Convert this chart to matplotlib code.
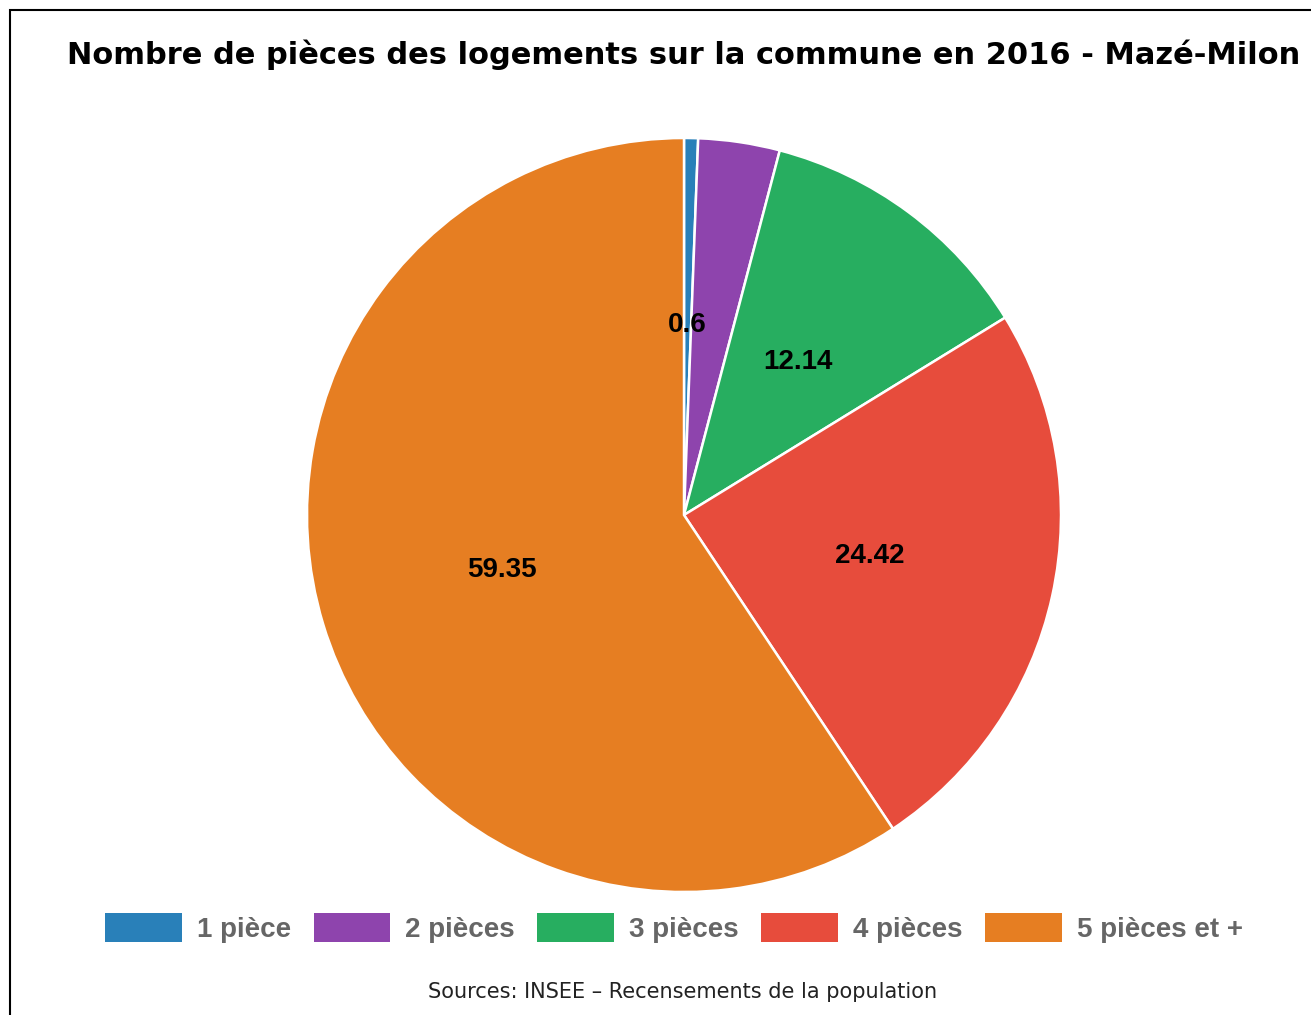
import matplotlib
matplotlib.use("Agg")
import matplotlib.pyplot as plt
from matplotlib.patches import Rectangle, Patch
import numpy as np

categories = ["1 pièce", "2 pièces", "3 pièces", "4 pièces", "5 pièces et +"]
shares = [0.6, 3.49, 12.14, 24.42, 59.35]
shown_labels = ["0.6", "", "12.14", "24.42", "59.35"]
colors = ["#2980b9", "#8e44ad", "#27ae60", "#e74c3c", "#e67e22"]

W, H = 1311, 1015
fig = plt.figure(figsize=(W / 100, H / 100), dpi=100)
fig.patch.set_facecolor("white")

# outer frame (left and top edges visible)
fig.add_artist(Rectangle((10 / W, -0.1), 1.2, (H - 10) / H + 0.1,
                         transform=fig.transFigure, fill=False,
                         edgecolor="black", linewidth=1.5))

cx, cy, r = 684, 515, 377
ax = fig.add_axes([(cx - r) / W, (H - cy - r) / H, 2 * r / W, 2 * r / H])
wedges, _ = ax.pie(shares, colors=colors, startangle=90, counterclock=False,
                   radius=1.0,
                   wedgeprops=dict(edgecolor="white", linewidth=1.8))
ax.set_xlim(-1, 1)
ax.set_ylim(-1, 1)
ax.set_aspect("equal")
ax.axis("off")

cum = np.cumsum([0] + shares)
total = cum[-1]
for i, txt in enumerate(shown_labels):
    if not txt:
        continue
    mid = (cum[i] + cum[i + 1]) / 2 / total
    ang = np.deg2rad(90 - 360 * mid)
    ax.text(0.505 * np.cos(ang), 0.505 * np.sin(ang), txt,
            ha="center", va="center", fontsize=20,
            family="Liberation Sans", weight="bold", color="black")

fig.text(684 / W, 1 - 55 / H,
         "Nombre de pièces des logements sur la commune en 2016 - Mazé-Milon",
         ha="center", va="center", fontsize=22, weight="bold",
         family="DejaVu Sans", color="black")

handles = [Patch(facecolor=c, edgecolor="none") for c in colors]
fig.legend(handles, categories, loc="center", bbox_to_anchor=(674 / W, 1 - 928 / H),
           ncol=5, frameon=False,
           prop=dict(family="Liberation Sans", weight="bold", size=20),
           labelcolor="#666666", handlelength=2.77, handleheight=1.2,
           handletextpad=0.54, columnspacing=0.8)

fig.text(683 / W, 1 - 992 / H, "Sources: INSEE – Recensements de la population",
         ha="center", va="center", fontsize=15, family="DejaVu Sans",
         color="#222222")

fig.savefig("out.png", dpi=100)
